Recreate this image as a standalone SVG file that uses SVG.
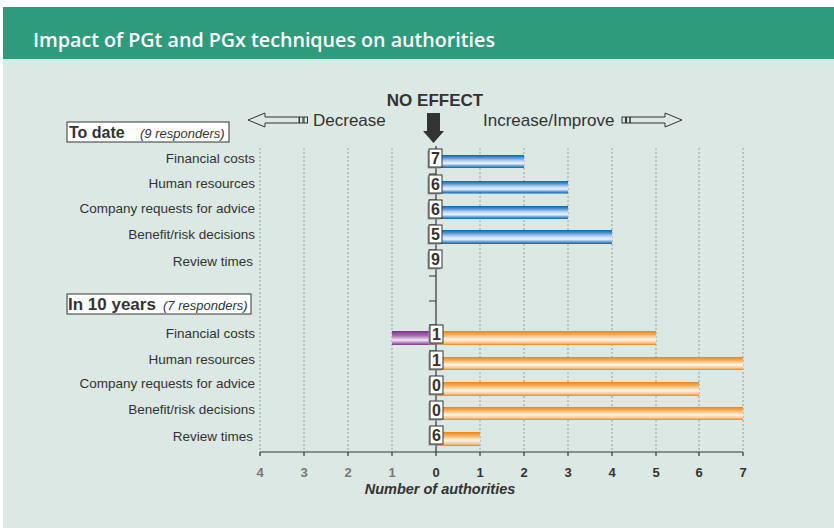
<svg xmlns="http://www.w3.org/2000/svg" width="834" height="528" viewBox="0 0 834 528">
<defs>
<linearGradient id="gBlue" x1="0" y1="0" x2="0" y2="1">
<stop offset="0" stop-color="#0068b3"/><stop offset="0.2" stop-color="#4a8fd0"/><stop offset="0.45" stop-color="#bcd3ef"/><stop offset="0.65" stop-color="#eef3fb"/><stop offset="0.85" stop-color="#5f9bd6"/><stop offset="1" stop-color="#0068b3"/>
</linearGradient>
<linearGradient id="gOrange" x1="0" y1="0" x2="0" y2="1">
<stop offset="0" stop-color="#ef820f"/><stop offset="0.3" stop-color="#f7b56a"/><stop offset="0.6" stop-color="#fff5ea"/><stop offset="0.85" stop-color="#f9c48a"/><stop offset="1" stop-color="#ef820f"/>
</linearGradient>
<linearGradient id="gPurple" x1="0" y1="0" x2="0" y2="1">
<stop offset="0" stop-color="#7d2f8c"/><stop offset="0.35" stop-color="#a772b3"/><stop offset="0.65" stop-color="#f2e6f2"/><stop offset="1" stop-color="#7d2f8c"/>
</linearGradient>
</defs>
<style>
.t{font-family:"Liberation Sans",Arial,sans-serif;fill:#333}
.cat{font-size:13.5px;text-anchor:end}
.grid{stroke:#8a8a8a;stroke-width:0.8;stroke-dasharray:2,2}
.ax{stroke:#333;stroke-width:1.2;fill:none}
.vb{fill:#fff;stroke:#333;stroke-width:1}
.vs{fill:#9a9a9a}
.vn{font-size:16px;font-weight:bold;text-anchor:middle}
.tick{font-size:13px;font-weight:bold;text-anchor:middle}
.arr{fill:none;stroke:#333;stroke-width:1}
</style>
<rect x="0" y="0" width="834" height="528" fill="#fff"/>
<rect x="3" y="59" width="831" height="469" fill="#dbe8e3"/>
<g id="header">
<rect x="3" y="7" width="831" height="52" fill="#2f9b7d"/>
<text x="33" y="47" font-family="'Open Sans','Liberation Sans',sans-serif" font-size="19" font-weight="600" fill="#fff" textLength="462" lengthAdjust="spacingAndGlyphs">Impact of PGt and PGx techniques on authorities</text>
</g>
<g id="gridlines">
<line class="grid" x1="260" y1="148" x2="260" y2="452"/>
<line class="grid" x1="304" y1="148" x2="304" y2="452"/>
<line class="grid" x1="348" y1="148" x2="348" y2="452"/>
<line class="grid" x1="392" y1="148" x2="392" y2="452"/>
<line class="grid" x1="480" y1="148" x2="480" y2="452"/>
<line class="grid" x1="524" y1="148" x2="524" y2="452"/>
<line class="grid" x1="568" y1="148" x2="568" y2="452"/>
<line class="grid" x1="612" y1="148" x2="612" y2="452"/>
<line class="grid" x1="656" y1="148" x2="656" y2="452"/>
<line class="grid" x1="699" y1="148" x2="699" y2="452"/>
<line class="grid" x1="743" y1="148" x2="743" y2="452"/>
</g>
<g id="legend">
<text class="t" x="435" y="106" font-size="17" font-weight="bold" text-anchor="middle">NO EFFECT</text>
<polygon points="427,113 440,113 440,131 444,131 433.5,143 423,131 427,131" fill="#333"/>
<path class="arr" d="M248,120 L265,113 L265,117 L299,117 L299,123 L265,123 L265,127 Z"/>
<rect class="arr" x="299.5" y="117" width="3.5" height="6"/>
<rect class="arr" x="304" y="117" width="3.5" height="6"/>
<text class="t" x="313" y="126" font-size="17">Decrease</text>
<text class="t" x="483" y="126" font-size="17">Increase/Improve</text>
<rect class="arr" x="622" y="117" width="3.5" height="6"/>
<rect class="arr" x="626.5" y="117" width="3.5" height="6"/>
<path class="arr" d="M630,117 L665,117 L665,113 L682,120 L665,127 L665,123 L630,123 Z"/>
</g>
<g id="section-to-date">
<rect x="67" y="122" width="162" height="20" fill="#fff" stroke="#333"/>
<text class="t" x="69" y="138"><tspan font-size="16" font-weight="bold">To date</tspan><tspan x="140" font-size="13" font-style="italic">(9 responders)</tspan></text>
</g>
<g id="section-10-years">
<rect x="67" y="294" width="184" height="20" fill="#fff" stroke="#333"/>
<text class="t" x="68" y="310"><tspan font-size="17" font-weight="bold">In 10 years</tspan><tspan x="163" font-size="13" font-style="italic">(7 responders)</tspan></text>
</g>
<g id="categories">
<text class="t cat" x="255" y="163">Financial costs</text>
<text class="t cat" x="255" y="188">Human resources</text>
<text class="t cat" x="255" y="213">Company requests for advice</text>
<text class="t cat" x="255" y="239">Benefit/risk decisions</text>
<text class="t cat" x="253" y="266">Review times</text>
<text class="t cat" x="255" y="338">Financial costs</text>
<text class="t cat" x="255" y="364">Human resources</text>
<text class="t cat" x="255" y="388">Company requests for advice</text>
<text class="t cat" x="255" y="414">Benefit/risk decisions</text>
<text class="t cat" x="253" y="441">Review times</text>
</g>
<g id="bars">
<rect x="436" y="155" width="88" height="13" fill="url(#gBlue)"/>
<rect x="436" y="181" width="132" height="12.5" fill="url(#gBlue)"/>
<rect x="436" y="206" width="132" height="13" fill="url(#gBlue)"/>
<rect x="436" y="230" width="176" height="14" fill="url(#gBlue)"/>
<rect x="392" y="331" width="44" height="14" fill="url(#gPurple)"/>
<rect x="436" y="331" width="220" height="14" fill="url(#gOrange)"/>
<rect x="436" y="357" width="307" height="13" fill="url(#gOrange)"/>
<rect x="436" y="382" width="263" height="14" fill="url(#gOrange)"/>
<rect x="436" y="407" width="307" height="13" fill="url(#gOrange)"/>
<rect x="436" y="432" width="44" height="14" fill="url(#gOrange)"/>
</g>
<g id="axes">
<line class="ax" x1="436" y1="146" x2="436" y2="456"/>
<path class="ax" d="M429,150H436M429,174H436M429,200H436M429,225H436M429,250H436M429,276H436M429,301H436M429,325H436M429,351H436M429,377H436M429,402H436M429,427H436"/>
<line class="ax" x1="260" y1="452" x2="743" y2="452"/>
<path class="ax" d="M260,452V456M304,452V456M348,452V456M392,452V456M480,452V456M524,452V456M568,452V456M612,452V456M656,452V456M699,452V456M743,452V456"/>
<g class="t tick">
<text x="260" y="477" fill="#777">4</text>
<text x="304" y="477" fill="#777">3</text>
<text x="348" y="477" fill="#777">2</text>
<text x="392" y="477" fill="#777">1</text>
<text x="436" y="477">0</text>
<text x="480" y="477">1</text>
<text x="524" y="477">2</text>
<text x="568" y="477">3</text>
<text x="612" y="477">4</text>
<text x="656" y="477">5</text>
<text x="699" y="477">6</text>
<text x="743" y="477">7</text>
</g>
<text class="t" x="440" y="494" font-size="14.5" font-weight="bold" font-style="italic" text-anchor="middle">Number of authorities</text>
</g>
<g id="values">
<rect class="vs" x="427.5" y="150.5" width="13" height="18"/><rect class="vb" x="429" y="149" width="13" height="18"/><text class="t vn" x="435.5" y="164">7</text>
<rect class="vs" x="427.5" y="176.5" width="13" height="18"/><rect class="vb" x="429" y="175" width="13" height="18"/><text class="t vn" x="435.5" y="190">6</text>
<rect class="vs" x="427.5" y="201.5" width="13" height="18"/><rect class="vb" x="429" y="200" width="13" height="18"/><text class="t vn" x="435.5" y="215">6</text>
<rect class="vs" x="427.5" y="226.5" width="13" height="18"/><rect class="vb" x="429" y="225" width="13" height="18"/><text class="t vn" x="435.5" y="240">5</text>
<rect class="vs" x="427.5" y="251.5" width="13" height="18"/><rect class="vb" x="429" y="250" width="13" height="18"/><text class="t vn" x="435.5" y="265">9</text>
<rect class="vs" x="428.5" y="326.5" width="13" height="18"/><rect class="vb" x="430" y="325" width="13" height="18"/><text class="t vn" x="436.5" y="340">1</text>
<rect class="vs" x="428.5" y="352.5" width="13" height="18"/><rect class="vb" x="430" y="351" width="13" height="18"/><text class="t vn" x="436.5" y="366">1</text>
<rect class="vs" x="428.5" y="377.5" width="13" height="18"/><rect class="vb" x="430" y="376" width="13" height="18"/><text class="t vn" x="436.5" y="391">0</text>
<rect class="vs" x="428.5" y="402.5" width="13" height="18"/><rect class="vb" x="430" y="401" width="13" height="18"/><text class="t vn" x="436.5" y="416">0</text>
<rect class="vs" x="428.5" y="427.5" width="13" height="18"/><rect class="vb" x="430" y="426" width="13" height="18"/><text class="t vn" x="436.5" y="441">6</text>
</g>
</svg>
